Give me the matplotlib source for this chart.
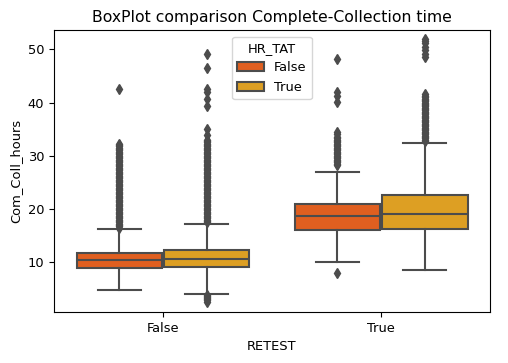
import matplotlib
matplotlib.use('Agg')
import matplotlib.pyplot as plt
from matplotlib.patches import Patch

plt.rcParams['font.size'] = 9.4

# CONSTANTS
RETEST = ['False', 'True']
HR_TAT = ['False', 'True']
COLORS = ['#e05f20', '#dd9f23']
GRAY = '#4c4c4c'

# box stats, order: (RETEST False, HR_TAT False), (False, True), (True, False), (True, True)
medians = [10.4, 10.6, 18.6, 19.1]
q1s = [8.9, 9.1, 16.0, 16.2]
q3s = [11.8, 12.2, 20.9, 22.6]
whis_low = [4.7, 4.1, 10.1, 8.6]
whis_high = [16.2, 17.2, 27.0, 32.4]

# outliers, the dense stacks read as closely packed readings
fliers_ff = [16.5, 16.75, 17.0, 17.25, 17.5, 17.75, 18.0, 18.25, 18.5, 18.75, 19.0, 19.25,
             19.5, 19.75, 20.0, 20.25, 20.5, 20.75, 21.0, 21.25, 21.5, 21.75, 22.0, 22.25,
             22.5, 22.75, 23.0, 23.25, 23.5, 23.75, 24.0, 24.25, 24.5, 24.75, 25.0, 25.25,
             25.5, 25.75, 26.0, 26.25, 26.5, 26.75, 27.0, 27.25, 27.5, 27.75, 28.0, 28.25,
             28.5, 28.75, 29.0, 29.25, 29.5, 29.75, 30.0, 30.25, 30.5, 30.75, 31.0, 31.25,
             31.5, 31.75, 32.0, 32.25, 42.6]
fliers_ft = [2.6, 2.8, 3.0, 3.2, 3.4, 3.6, 3.8,
             17.5, 17.75, 18.0, 18.25, 18.5, 18.75, 19.0, 19.25, 19.5, 19.75, 20.0, 20.25,
             20.5, 20.75, 21.0, 21.25, 21.5, 21.75, 22.0, 22.25, 22.5, 22.75, 23.0, 23.25,
             23.5, 23.75, 24.0, 24.25, 24.5, 24.75, 25.0, 25.25, 25.5, 25.75, 26.0, 26.25,
             26.5, 26.75, 27.0, 27.25, 27.5, 27.75, 28.0, 28.25, 28.5, 28.75, 29.0, 29.25,
             29.5, 29.75, 30.0, 30.25, 30.5, 30.75, 31.0, 31.25, 31.5, 31.75, 32.0, 32.25,
             32.5, 32.75, 33.0, 33.8, 35.1, 39.3, 40.7, 42.0, 42.6, 46.5, 49.2]
fliers_tf = [8.0, 28.25, 28.5, 28.75, 29.0, 29.25, 29.5, 29.75, 30.0, 30.25, 30.5, 30.75,
             31.0, 31.25, 31.5, 31.75, 32.0, 32.25, 32.5, 32.75, 33.0, 33.3, 33.6, 34.0,
             34.4, 40.1, 41.2, 42.0, 48.2]
fliers_tt = [32.75, 33.0, 33.25, 33.5, 33.75, 34.0, 34.25, 34.5, 34.75, 35.0, 35.25, 35.5,
             35.75, 36.0, 36.25, 36.5, 36.75, 37.0, 37.25, 37.5, 37.75, 38.0, 38.25, 38.5,
             38.75, 39.0, 39.25, 39.5, 39.75, 40.0, 40.25, 40.5, 40.75, 41.0, 41.3, 41.6,
             48.6, 49.2, 49.8, 50.5, 51.1, 51.6, 52.0]
fliers = [fliers_ff, fliers_ft, fliers_tf, fliers_tt]

stats = []
for i in range(4):
    stats.append(dict(med=medians[i], q1=q1s[i], q3=q3s[i],
                      whislo=whis_low[i], whishi=whis_high[i], fliers=fliers[i]))

positions = [0 - 0.2, 0 + 0.2, 1 - 0.2, 1 + 0.2]
box_colors = [COLORS[0], COLORS[1], COLORS[0], COLORS[1]]

fig = plt.figure(figsize=(5.08, 3.63), dpi=100)
ax = fig.add_axes([0.106, 0.14, 0.859, 0.777])

line = dict(color=GRAY, linewidth=1.5)
res = ax.bxp(stats, positions=positions, widths=0.392, patch_artist=True,
             boxprops=dict(edgecolor=GRAY, linewidth=1.5),
             medianprops=line, whiskerprops=line, capprops=line,
             flierprops=dict(marker='d', markersize=5, markerfacecolor=GRAY,
                             markeredgecolor=GRAY, linestyle='none'))
for box, c in zip(res['boxes'], box_colors):
    box.set_facecolor(c)

ax.set_xticks([0, 1])
ax.set_xticklabels(RETEST)
ax.set_xlim(-0.5, 1.5)
ax.set_ylim(0.6, 53.6)
ax.set_yticks([10, 20, 30, 40, 50])
ax.set_xlabel('RETEST')
ax.set_ylabel('Com_Coll_hours')
ax.set_title('BoxPlot comparison Complete-Collection time')

handles = [Patch(facecolor=c, edgecolor=GRAY, linewidth=1.5, label=l)
           for c, l in zip(COLORS, HR_TAT)]
ax.legend(handles=handles, title='HR_TAT', loc='upper center')

fig.savefig('out.png', dpi=100)
